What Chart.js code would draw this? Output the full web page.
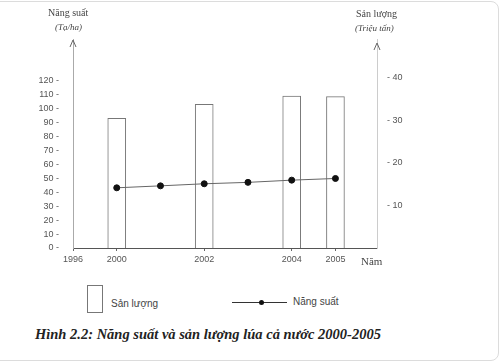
<!DOCTYPE html>
<html>
<head>
<meta charset="utf-8">
<script src="https://cdn.jsdelivr.net/npm/chart.js@4.4.0/dist/chart.umd.min.js"></script>
<style>
  html, body { margin: 0; padding: 0; background: #fff; }
  body { width: 500px; height: 363px; position: relative; overflow: hidden; font-family: "Liberation Sans", Arial, sans-serif; }
  .frame { position: absolute; left: -10px; top: 1px; width: 507px; height: 358px; border: 1px solid #dcdcdc; border-radius: 8px; }
  #wrap { position: absolute; left: 0; top: 0; width: 500px; height: 272px; }
  .t { position: absolute; color: #444; white-space: nowrap; font-family: "Liberation Serif", serif; }
  .it { font-style: italic; }
  .leg-box { position: absolute; left: 87px; top: 285px; width: 14px; height: 26px; border: 1px solid #777; }
  .leg-line { position: absolute; left: 232px; top: 302px; width: 55px; height: 0; border-top: 1px solid #333; }
  .leg-dot { position: absolute; left: 259px; top: 300px; width: 5px; height: 5px; border-radius: 50%; background: #111; }
  .cap { position: absolute; left: 35px; top: 326px; font: italic bold 14.5px "Liberation Serif", serif; color: #222; white-space: nowrap; }
</style>
</head>
<body>
<div class="frame"></div>
<div id="wrap"><canvas id="c"></canvas></div>

<div class="t" style="left:48px;top:7px;font-size:10px;">Năng suất</div>
<div class="t it" style="left:55px;top:22px;font-size:9px;">(Tạ/ha)</div>
<div class="t" style="left:356px;top:8px;font-size:10px;">Sản lượng</div>
<div class="t it" style="left:355px;top:23px;font-size:9px;">(Triệu tấn)</div>
<div class="t" style="left:361px;top:255px;font-size:11px;">Năm</div>

<div class="leg-box"></div>
<div class="t" style="left:111px;top:298px;font-size:10px;font-family:'Liberation Sans',sans-serif;">Sản lượng</div>
<div class="leg-line"></div>
<div class="leg-dot"></div>
<div class="t" style="left:293px;top:296px;font-size:10px;font-family:'Liberation Sans',sans-serif;">Năng suất</div>

<div class="cap">Hình 2.2: Năng suất và sản lượng lúa cả nước 2000-2005</div>

<script>
// values
const barYears = [2000, 2002, 2004, 2005];
const sanLuong = [30.4, 33.7, 35.6, 35.5];          // triệu tấn (right axis)
const lineYears = [2000, 2001, 2002, 2003, 2004, 2005];
const nangSuat = [43.2, 44.6, 46.1, 47.1, 48.7, 49.9]; // tạ/ha (left axis)
const xTicks = [1999, 2000, 2002, 2004, 2005];
const xTickLabels = ['1996', '2000', '2002', '2004', '2005'];
const leftTicks = [0, 10, 20, 30, 40, 50, 60, 70, 80, 90, 100, 110, 120];
const rightTicks = [10, 20, 30, 40];

const tickFont = { family: 'Liberation Sans', size: 9 };

// little arrow heads on top of both value axes
const arrows = {
  id: 'arrows',
  afterDraw(chart) {
    const ctx = chart.ctx, a = chart.chartArea;
    ctx.save();
    ctx.strokeStyle = '#666';
    ctx.lineWidth = 1;
    [[a.left, a.top + 1], [a.right, a.top + 4]].forEach(([x, y]) => {
      ctx.beginPath();
      ctx.moveTo(x - 3, y + 7);
      ctx.lineTo(x, y);
      ctx.lineTo(x + 3, y + 7);
      ctx.stroke();
    });
    ctx.restore();
  }
};

new Chart(document.getElementById('c'), {
  type: 'bar',
  data: {
    datasets: [
      {
        type: 'line',
        data: lineYears.map((x, i) => ({ x, y: nangSuat[i] })),
        yAxisID: 'y',
        borderColor: '#666',
        borderWidth: 1,
        pointBackgroundColor: '#111',
        pointBorderColor: '#111',
        pointRadius: 3,
        order: 0
      },
      {
        type: 'bar',
        data: barYears.map((x, i) => ({ x, y: sanLuong[i] })),
        yAxisID: 'y2',
        backgroundColor: '#fff',
        borderColor: '#777',
        borderWidth: 1,
        barThickness: 18,
        order: 1
      }
    ]
  },
  options: {
    responsive: true,
    maintainAspectRatio: false,
    animation: false,
    layout: { padding: { top: 39, left: 0, right: 0, bottom: 0 } },
    plugins: { legend: { display: false }, tooltip: { enabled: false } },
    scales: {
      x: {
        type: 'linear',
        offset: false,
        min: 1999,
        max: 2005.95,
        afterBuildTicks: s => { s.ticks = xTicks.map(v => ({ value: v })); },
        afterFit: s => { s.height = 272 - 248; },
        ticks: {
          font: tickFont, color: '#555', padding: 3, maxRotation: 0,
          callback: v => xTickLabels[xTicks.indexOf(v)]
        },
        grid: { drawOnChartArea: false, offset: false, tickLength: 3, color: '#666' },
        border: { color: '#555', width: 1 }
      },
      y: {
        position: 'left',
        min: 0,
        max: 150,
        afterBuildTicks: s => { s.ticks = leftTicks.map(v => ({ value: v })); },
        afterFit: s => { s.width = 73; },
        ticks: { font: tickFont, color: '#555', padding: 6, callback: v => v + ' -' },
        grid: { display: false },
        border: { color: '#aaa', width: 1, dash: [2, 1] }
      },
      y2: {
        position: 'right',
        min: 0,
        max: 49,
        afterBuildTicks: s => { s.ticks = rightTicks.map(v => ({ value: v })); },
        afterFit: s => { s.width = 123; },
        ticks: { font: tickFont, color: '#555', padding: 2, callback: v => '- ' + v },
        grid: { display: false },
        border: { color: '#ccc', width: 1 }
      }
    }
  },
  plugins: [arrows]
});
</script>
</body>
</html>
